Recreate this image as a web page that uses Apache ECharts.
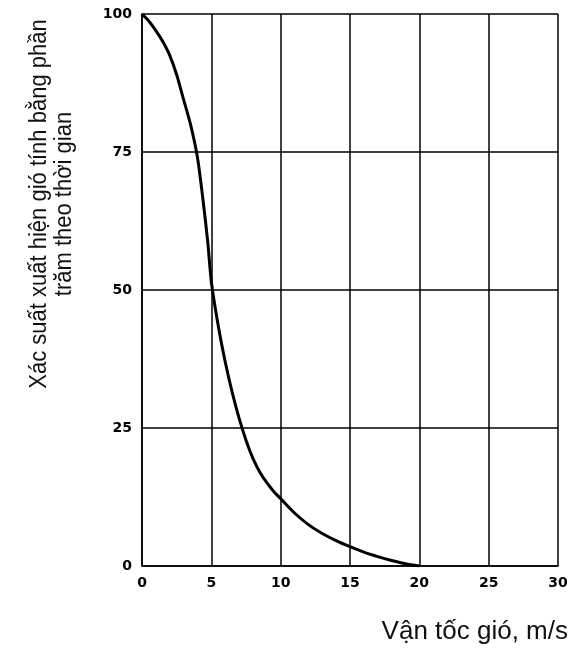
<!DOCTYPE html>
<html>
<head>
<meta charset="utf-8">
<script src="https://cdn.jsdelivr.net/npm/echarts@6/dist/echarts.min.js"></script>
<style>
  html, body { margin: 0; padding: 0; background: #fff; }
  #chart { width: 580px; height: 648px; }
</style>
</head>
<body>
<div id="chart"></div>
<script>
// wind speed (m/s) and probability of occurrence (% of time)
var windSpeed = [0, 0.5, 1, 1.5, 2, 2.5, 3, 3.5, 4, 4.4, 4.75, 5, 5.5, 6, 6.5, 7, 7.5, 8, 8.5, 9, 9.5, 10, 11, 12, 13, 14, 15, 16, 17, 18, 19, 20];
var probability = [100, 98.7, 97, 95, 92.5, 89, 84.5, 80, 74, 66.3, 58.5, 51.5, 43.5, 37, 31.5, 26.8, 22.8, 19.5, 17, 15.1, 13.5, 12.2, 9.6, 7.5, 5.9, 4.6, 3.5, 2.5, 1.7, 1.0, 0.4, 0];
var yTitle = 'Xác suất xuất hiện gió tính bằng phần\ntrăm theo thời gian';
var xTitle = 'Vận tốc gió, m/s';

var points = windSpeed.map(function (x, i) { return [x, probability[i]]; });

var chart = echarts.init(document.getElementById('chart'));

var tickFont = { color: '#000', fontWeight: 'bold', fontSize: 14, fontFamily: 'DejaVu Sans' };

chart.setOption({
    animation: false,
    grid: { left: 142, right: 22, top: 14, bottom: 82 },
    xAxis: {
        type: 'value',
        min: 0, max: 30, interval: 5,
        axisLine: { lineStyle: { color: '#000', width: 1.5 } },
        axisTick: { show: false },
        axisLabel: Object.assign({ margin: 10 }, tickFont),
        splitLine: { show: true, lineStyle: { color: '#000', width: 1.5 } }
    },
    yAxis: {
        type: 'value',
        min: 0, max: 100, interval: 25,
        axisLine: { show: true, lineStyle: { color: '#000', width: 1.5 } },
        axisTick: { show: false },
        axisLabel: Object.assign({ margin: 10 }, tickFont),
        splitLine: { show: true, lineStyle: { color: '#000', width: 1.5 } }
    },
    series: [{
        type: 'line',
        data: points,
        smooth: 0.25,
        showSymbol: false,
        lineStyle: { color: '#000', width: 3 }
    }],
    graphic: [{
        type: 'text',
        x: 52, y: 204,
        rotation: Math.PI / 2,
        scaleY: 1.1,
        style: {
            text: yTitle,
            fill: '#111',
            font: '22px "Liberation Sans"',
            lineHeight: 23,
            align: 'center',
            verticalAlign: 'middle'
        }
    }, {
        type: 'text',
        x: 568, y: 632,
        style: {
            text: xTitle,
            fill: '#111',
            font: '26px "Liberation Sans"',
            align: 'right',
            verticalAlign: 'middle'
        }
    }]
});
</script>
</body>
</html>
